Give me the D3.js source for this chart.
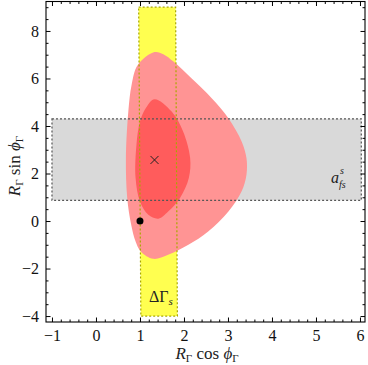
<!DOCTYPE html>
<html>
<head>
<meta charset="utf-8">
<script src="https://cdn.jsdelivr.net/npm/d3@7"></script>
<style>
  body { margin: 0; background: #fff; }
  svg text { font-family: "Liberation Serif", "Times New Roman", serif; }
</style>
</head>
<body>
<script>
// chart values
const xTicks = [-1, 0, 1, 2, 3, 4, 5, 6];
const yTicks = [-4, -2, 0, 2, 4, 6, 8];

// outer (lighter) allowed region, traced clockwise from the top
const outerRegion = [
  [1.33, 7.11], [1.53, 7.02], [1.76, 6.71], [2.17, 6.01], [2.63, 5.17],
  [3.01, 4.33], [3.31, 3.35], [3.42, 2.65], [3.42, 1.95], [3.31, 1.25],
  [3.01, 0.40], [2.55, -0.44], [2.10, -1.0], [1.64, -1.42], [1.30, -1.59],
  [1.02, -1.28], [0.90, -0.86], [0.80, -0.16], [0.71, 0.97], [0.68, 2.65],
  [0.735, 4.61], [0.81, 5.74], [0.95, 6.57]
];
// inner (darker) region
const innerRegion = [
  [1.33, 5.13], [1.72, 4.61], [1.98, 3.77], [2.14, 2.65], [2.11, 1.81],
  [1.91, 0.97], [1.64, 0.40], [1.42, 0.10], [1.19, 0.26], [1.0, 0.82],
  [0.90, 1.81], [0.92, 3.21], [1.0, 4.19], [1.13, 4.75]
];
// Delta Gamma_s band (slightly tilted)
const dGammaBand = [[0.97, 9.0], [1.81, 9.0], [1.85, -4.0], [1.02, -4.0]];
// a_fs band
const afsBand = [[-1.0, 4.30], [6.03, 4.30], [6.03, 0.87], [-1.0, 0.87]];
const bestFit = [1.33, 2.57];
const smPoint = [1.0, 0.0];

const width = 368, height = 365;
const mLeft = 46, mRight = 365, mTop = 1.5, mBottom = 322;
const serif = "'Liberation Serif', 'Times New Roman', serif";

let x = d3.scaleLinear().domain([-1.136, 6.114]).range([mLeft, mRight]);
let y = d3.scaleLinear().domain([-4.25, 9.24]).range([mBottom, mTop]);

let svg = d3.select("body").append("svg")
  .attr("width", width)
  .attr("height", height);

let poly = d3.line().x(d => x(d[0])).y(d => y(d[1]));
let smooth = d3.line().x(d => x(d[0])).y(d => y(d[1])).curve(d3.curveCatmullRomClosed.alpha(0.5));

// bands
svg.append("path").attr("d", poly(afsBand) + "Z").attr("fill", "#d9d9d9");
svg.append("path").attr("d", poly(dGammaBand) + "Z").attr("fill", "#ffff50");

// fit regions
svg.append("path").attr("d", smooth(outerRegion)).attr("fill", "#ff9494");
svg.append("path").attr("d", smooth(innerRegion)).attr("fill", "#ff5c5c");

// dashed band borders on top
svg.append("path").attr("d", poly(afsBand) + "Z")
  .attr("fill", "none").attr("stroke", "#555").attr("stroke-width", 1.2)
  .attr("stroke-dasharray", "2,2");
svg.append("path").attr("d", poly(dGammaBand) + "Z")
  .attr("fill", "none").attr("stroke", "#a8a800").attr("stroke-width", 1.2)
  .attr("stroke-dasharray", "2,2");

// markers
let cx = x(bestFit[0]), cy = y(bestFit[1]);
svg.append("path")
  .attr("d", `M${cx - 4},${cy - 4}L${cx + 4},${cy + 4}M${cx - 4},${cy + 4}L${cx + 4},${cy - 4}`)
  .attr("stroke", "#222").attr("stroke-width", 1);
svg.append("circle")
  .attr("cx", x(smPoint[0])).attr("cy", y(smPoint[1])).attr("r", 3.5)
  .attr("fill", "#000");

// band labels
svg.append("text")
  .attr("x", 331).attr("y", 183)
  .attr("font-size", 16).attr("font-style", "italic").attr("fill", "#222")
  .text("a");
svg.append("text")
  .attr("x", 340).attr("y", 174)
  .attr("font-size", 10).attr("font-style", "italic").attr("fill", "#222")
  .text("s");
svg.append("text")
  .attr("x", 339).attr("y", 188)
  .attr("font-size", 10).attr("font-style", "italic").attr("fill", "#222")
  .text("fs");

let dg = svg.append("text")
  .attr("x", 149).attr("y", 302)
  .attr("font-size", 16).attr("fill", "#222");
dg.append("tspan").text("ΔΓ");
dg.append("tspan").attr("font-size", 11).attr("font-style", "italic").attr("dy", 3).text("s");

// axes: ticks on all four sides, pointing inward
const xMinor = d3.range(-1, 6.01, 0.2).filter(v => Math.abs(v - Math.round(v)) > 0.01);
const yMinor = d3.range(-4, 9.01, 0.5).filter(v => Math.abs(v / 2 - Math.round(v / 2)) > 0.01);
const fmt = d => d < 0 ? "\u2212" + Math.abs(d) : "" + d;

function ticks(axis, pos, major, minor, pad) {
  let g = svg.append("g").attr("transform", pos);
  g.call(axis.tickValues(major).tickSizeInner(-4.5).tickSizeOuter(0)
    .tickPadding(pad).tickFormat(pad ? fmt : ""));
  g.attr("font-family", serif).attr("font-size", 16);
  g.select(".domain").remove();
  g.selectAll("line").attr("stroke", "#000");
  g.selectAll("text").style("font-family", serif).attr("fill", "#111");
  let g2 = svg.append("g").attr("transform", pos);
  g2.call(axis.tickValues(minor).tickSizeInner(-2.5).tickFormat(""));
  g2.select(".domain").remove();
  g2.selectAll("line").attr("stroke", "#000");
}
ticks(d3.axisBottom(x), `translate(0,${mBottom})`, xTicks, xMinor, 8);
ticks(d3.axisTop(x), `translate(0,${mTop})`, xTicks, xMinor, 0);
ticks(d3.axisLeft(y), `translate(${mLeft},0)`, yTicks, yMinor, 7);
ticks(d3.axisRight(y), `translate(${mRight},0)`, yTicks, yMinor, 0);

// frame
svg.append("rect")
  .attr("x", mLeft).attr("y", mTop)
  .attr("width", mRight - mLeft).attr("height", mBottom - mTop)
  .attr("fill", "none").attr("stroke", "#000").attr("stroke-width", 1.1);

// axis titles
let xl = svg.append("text")
  .attr("x", 207).attr("y", 359).attr("text-anchor", "middle")
  .attr("font-size", 17).attr("fill", "#222");
xl.append("tspan").attr("font-style", "italic").text("R");
xl.append("tspan").attr("font-size", 11).attr("dy", 3).text("Γ");
xl.append("tspan").attr("dy", -3).text(" cos ");
xl.append("tspan").attr("font-style", "italic").text("\u03D5");
xl.append("tspan").attr("font-size", 11).attr("dy", 3).text("Γ");

let yl = svg.append("text")
  .attr("transform", `translate(20,${166}) rotate(-90)`).attr("text-anchor", "middle")
  .attr("font-size", 17).attr("fill", "#222");
yl.append("tspan").attr("font-style", "italic").text("R");
yl.append("tspan").attr("font-size", 11).attr("dy", 3).text("Γ");
yl.append("tspan").attr("dy", -3).text(" sin ");
yl.append("tspan").attr("font-style", "italic").text("\u03D5");
yl.append("tspan").attr("font-size", 11).attr("dy", 3).text("Γ");
</script>
</body>
</html>
